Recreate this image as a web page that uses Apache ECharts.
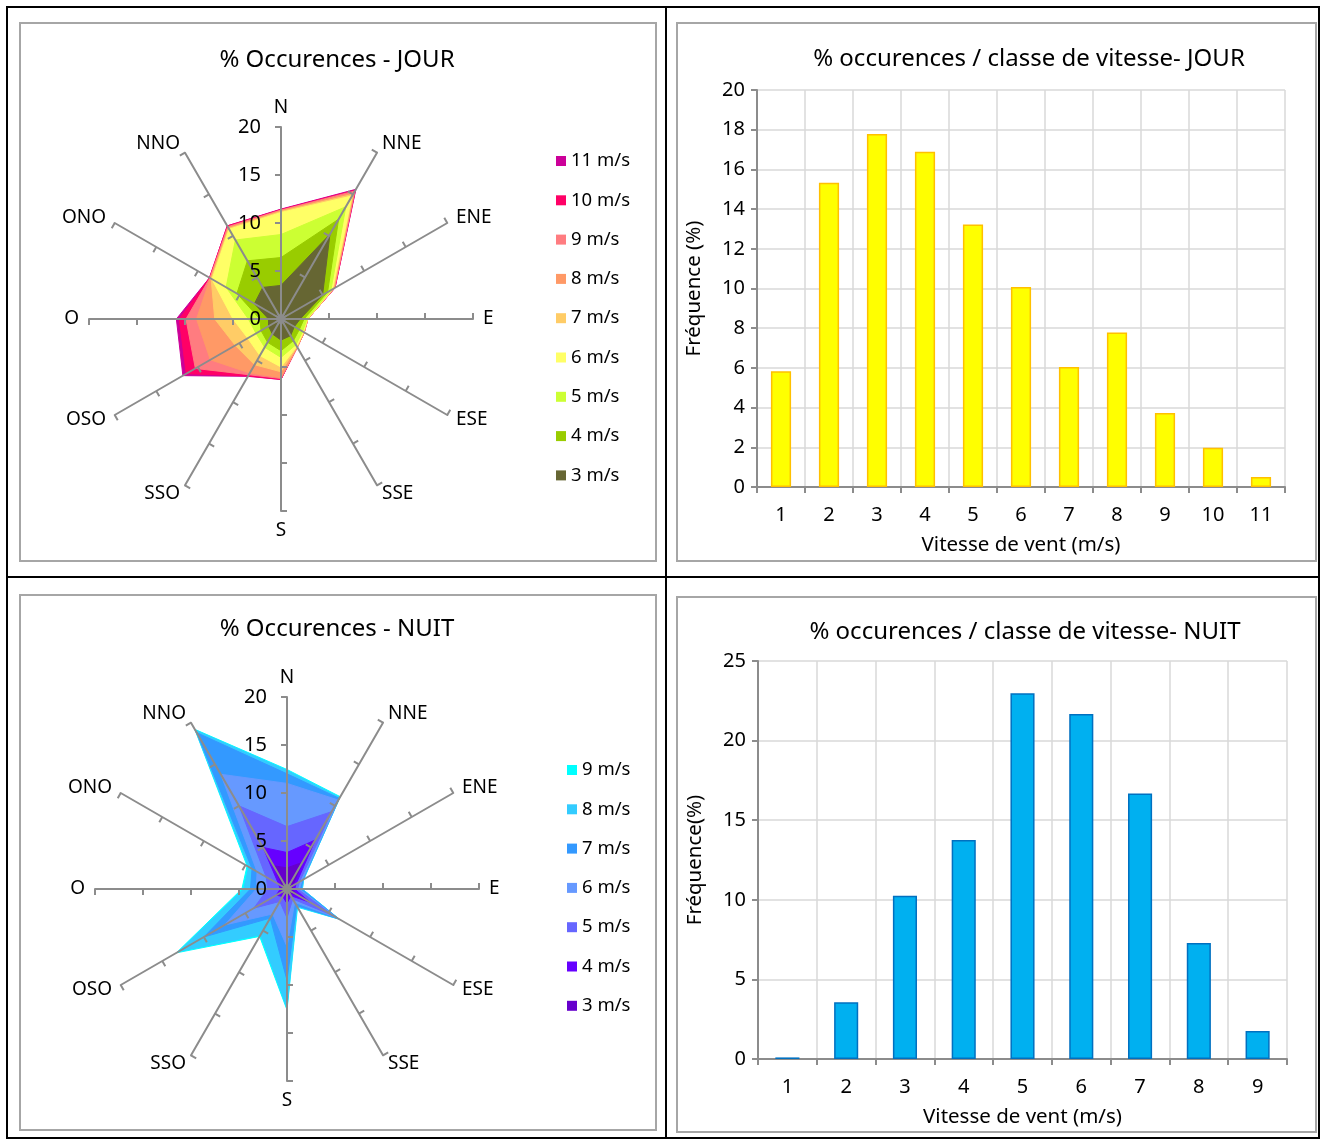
<!DOCTYPE html>
<html>
<head>
<meta charset="utf-8">
<script src="https://cdn.jsdelivr.net/npm/echarts@6/dist/echarts.min.js"></script>
<style>
  html, body { margin: 0; padding: 0; background: #fff; }
  #page { position: relative; width: 1322px; height: 1140px; overflow: hidden; }
  .rule { position: absolute; background: #000; }
  .panel { position: absolute; border: 2px solid #a6a6a6; box-sizing: border-box; background: #fff; }
  .chart { position: absolute; left: 0; top: 0; width: 1322px; height: 1140px; }
</style>
</head>
<body>
<div id="page">
  <!-- table frame -->
  <div class="rule" style="left:6px;top:6px;width:1314px;height:2px"></div>
  <div class="rule" style="left:6px;top:1137px;width:1314px;height:2px"></div>
  <div class="rule" style="left:6px;top:6px;width:2px;height:1133px"></div>
  <div class="rule" style="left:1318px;top:6px;width:2px;height:1133px"></div>
  <div class="rule" style="left:665px;top:6px;width:2px;height:1133px"></div>
  <div class="rule" style="left:6px;top:576px;width:1314px;height:2px"></div>
  <!-- chart frames -->
  <div class="panel" style="left:19px;top:22px;width:638px;height:540px"></div>
  <div class="panel" style="left:676px;top:22px;width:641px;height:540px"></div>
  <div class="panel" style="left:19px;top:594px;width:638px;height:537px"></div>
  <div class="panel" style="left:676px;top:596px;width:641px;height:537px"></div>
  <div id="chartJour" class="chart"></div>
  <div id="chartNuit" class="chart"></div>
</div>
<script>
// Wind directions, clockwise from north
const DIRECTIONS = ['N', 'NNE', 'ENE', 'E', 'ESE', 'SSE', 'S', 'SSO', 'OSO', 'O', 'ONO', 'NNO'];
const RADAR_TICKS = [0, 5, 10, 15, 20];

// Day: cumulative % of occurrences per direction, up to each speed class
const JOUR_3  = [3.5, 10.2, 5.0, 2.0, 1.6, 2.0, 2.2, 1.8, 1.5, 1.3, 3.2, 3.8];
const JOUR_4  = [6.4, 12.0, 5.6, 2.4, 2.2, 2.6, 3.3, 2.8, 2.4, 2.2, 5.3, 7.0];
const JOUR_5  = [8.8, 13.5, 6.0, 2.7, 2.6, 3.1, 4.0, 3.4, 3.0, 3.4, 6.6, 9.5];
const JOUR_6  = [11.1, 14.8, 6.2, 2.75, 2.7, 3.3, 5.0, 4.4, 4.0, 5.0, 8.3, 10.8];
const JOUR_7  = [11.2, 15.0, 6.3, 2.8, 2.75, 3.35, 5.5, 5.5, 5.5, 6.9, 8.4, 10.9];
const JOUR_8  = [11.3, 15.2, 6.4, 2.8, 2.8, 3.4, 6.1, 6.5, 8.5, 8.8, 8.5, 11.0];
const JOUR_9  = [11.35, 15.4, 6.45, 2.8, 2.8, 3.4, 6.2, 6.7, 10.3, 9.9, 8.55, 11.1];
const JOUR_10 = [11.4, 15.5, 6.5, 2.8, 2.8, 3.4, 6.3, 6.85, 11.4, 10.6, 8.6, 11.2];
const JOUR_11 = [11.45, 15.6, 6.5, 2.8, 2.8, 3.4, 6.3, 6.9, 11.8, 10.9, 8.6, 11.2];

// Night: cumulative % of occurrences per direction, up to each speed class
const NUIT_3 = [2.2, 3.2, 0.7, 0.5, 1.2, 0.5, 0.8, 0.5, 0.6, 0.4, 0.5, 2.8];
const NUIT_4 = [3.8, 5.9, 1.1, 0.8, 2.8, 0.8, 1.5, 0.9, 1.3, 0.7, 1.0, 5.0];
const NUIT_5 = [6.5, 9.3, 1.5, 1.1, 5.5, 1.2, 3.0, 1.5, 4.0, 2.0, 2.5, 10.0];
const NUIT_6 = [11.0, 10.7, 1.8, 1.3, 6.0, 1.6, 6.0, 3.0, 7.5, 3.2, 3.6, 13.8];
const NUIT_7 = [12.0, 10.9, 1.9, 1.5, 6.2, 2.0, 9.5, 3.5, 10.0, 3.8, 4.2, 18.8];
const NUIT_8 = [12.35, 11.0, 2.0, 1.6, 6.3, 2.1, 12.4, 5.5, 13.0, 4.5, 4.6, 19.1];
const NUIT_9 = [12.45, 11.1, 2.0, 1.6, 6.3, 2.2, 12.6, 5.7, 13.3, 4.7, 4.8, 19.2];

// Frequency per speed class (%)
const JOUR_CLASSES = ['1', '2', '3', '4', '5', '6', '7', '8', '9', '10', '11'];
const JOUR_FREQ = [5.83, 15.33, 17.78, 16.89, 13.23, 10.08, 6.05, 7.78, 3.73, 1.98, 0.5];
const NUIT_CLASSES = ['1', '2', '3', '4', '5', '6', '7', '8', '9'];
const NUIT_FREQ = [0.1, 3.56, 10.26, 13.76, 22.97, 21.67, 16.67, 7.29, 1.76];

const FONT = 'Noto Sans';
const TXT = '#000';
const AXIS_GREY = '#8c8c8c';

// Speed layers, outermost first so the lower speeds paint on top
const JOUR_LAYERS = [
  { name: '11 m/s', color: '#CC0099', data: JOUR_11 },
  { name: '10 m/s', color: '#FF0066', data: JOUR_10 },
  { name: '9 m/s',  color: '#FF7C80', data: JOUR_9 },
  { name: '8 m/s',  color: '#FF9966', data: JOUR_8 },
  { name: '7 m/s',  color: '#FFCC66', data: JOUR_7 },
  { name: '6 m/s',  color: '#FFFF66', data: JOUR_6 },
  { name: '5 m/s',  color: '#CCFF33', data: JOUR_5 },
  { name: '4 m/s',  color: '#99CC00', data: JOUR_4 },
  { name: '3 m/s',  color: '#666633', data: JOUR_3 }
];
const NUIT_LAYERS = [
  { name: '9 m/s', color: '#00FFFF', data: NUIT_9 },
  { name: '8 m/s', color: '#33CCFF', data: NUIT_8 },
  { name: '7 m/s', color: '#3399FF', data: NUIT_7 },
  { name: '6 m/s', color: '#6699FF', data: NUIT_6 },
  { name: '5 m/s', color: '#6666FF', data: NUIT_5 },
  { name: '4 m/s', color: '#6600FF', data: NUIT_4 },
  { name: '3 m/s', color: '#6600CC', data: NUIT_3 }
];

// Radar lays indicators out counter-clockwise; reorder so the rose turns clockwise
const ORDER = [0].concat(DIRECTIONS.map((d, i) => i).slice(1).reverse());
const reorder = arr => ORDER.map(i => arr[i]);

function radarComponent(center) {
  return {
    z: 10,
    center: center,
    radius: 192,
    startAngle: 90,
    splitNumber: RADAR_TICKS.length - 1,
    shape: 'polygon',
    indicator: ORDER.map((i, k) => {
      const ind = { name: DIRECTIONS[i], min: RADAR_TICKS[0], max: RADAR_TICKS[RADAR_TICKS.length - 1] };
      if (k === 0) {
        ind.axisLabel = { show: true, color: TXT, fontSize: 20, fontFamily: FONT, margin: 20 };
      }
      return ind;
    }),
    axisName: { color: TXT, fontSize: 19, fontFamily: FONT },
    nameGap: 10,
    axisLine: { lineStyle: { color: AXIS_GREY, width: 2 } },
    axisTick: { show: true, length: 6, lineStyle: { color: AXIS_GREY, width: 2 } },
    axisLabel: { show: false },
    splitLine: { show: false },
    splitArea: { show: false }
  };
}

function radarSeries(layers) {
  return layers.map(l => ({
    type: 'radar',
    name: l.name,
    radarIndex: 0,
    symbol: 'none',
    silent: true,
    z: 1,
    color: l.color,
    lineStyle: { color: l.color, width: 1 },
    areaStyle: { color: l.color, opacity: 1 },
    data: [{ value: reorder(l.data), name: l.name }]
  }));
}

function legend(layers, left, top) {
  return {
    orient: 'vertical',
    left: left,
    top: top,
    padding: 0,
    icon: 'rect',
    itemWidth: 10,
    itemHeight: 10,
    itemGap: 19.3,
    selectedMode: false,
    data: layers.map(l => l.name),
    textStyle: { color: TXT, fontSize: 18.5, fontFamily: FONT, lineHeight: 20 }
  };
}

function barParts(cfg) {
  return {
    grid: { left: cfg.left, right: cfg.right, top: cfg.top, bottom: cfg.bottom },
    xAxis: {
      type: 'category',
      data: cfg.classes,
      name: 'Vitesse de vent (m/s)',
      nameLocation: 'middle',
      nameGap: 48,
      nameTextStyle: { color: TXT, fontSize: 20.5, fontFamily: FONT },
      axisLine: { lineStyle: { color: AXIS_GREY, width: 2 } },
      axisTick: { show: true, length: 6, lineStyle: { color: AXIS_GREY, width: 2 } },
      axisLabel: { color: TXT, fontSize: 20, fontFamily: FONT, margin: 18 },
      splitLine: { show: true, lineStyle: { color: '#d9d9d9', width: 1.5 } }
    },
    yAxis: {
      type: 'value',
      min: 0,
      max: cfg.max,
      interval: cfg.interval,
      name: cfg.yName,
      nameLocation: 'middle',
      nameRotate: 90,
      nameGap: 52,
      nameTextStyle: { color: TXT, fontSize: 20.5, fontFamily: FONT },
      axisLine: { show: true, lineStyle: { color: AXIS_GREY, width: 2 } },
      axisTick: { show: true, length: 6, lineStyle: { color: AXIS_GREY, width: 2 } },
      axisLabel: { color: TXT, fontSize: 20, fontFamily: FONT, margin: 12 },
      splitLine: { show: true, lineStyle: { color: '#d9d9d9', width: 1.5 } }
    },
    series: {
      type: 'bar',
      data: cfg.values,
      barWidth: cfg.barWidth,
      silent: true,
      itemStyle: { color: cfg.color, borderColor: cfg.border, borderWidth: 1.5 }
    }
  };
}

function title(text, x, y) {
  return {
    text: text,
    left: x,
    top: y,
    textAlign: 'center',
    textStyle: { color: TXT, fontSize: 24, fontWeight: 'normal', fontFamily: FONT }
  };
}

function build(el, o) {
  const chart = echarts.init(document.getElementById(el), null, { renderer: 'canvas' });
  const bar = barParts(o.bar);
  chart.setOption({
    backgroundColor: 'transparent',
    animation: false,
    title: [title(o.radarTitle, o.radarTitleX, o.radarTitleY), title(o.barTitle, o.barTitleX, o.barTitleY)],
    legend: legend(o.layers, o.legendLeft, o.legendTop),
    radar: radarComponent(o.center),
    grid: bar.grid,
    xAxis: bar.xAxis,
    yAxis: bar.yAxis,
    series: radarSeries(o.layers).concat([bar.series])
  });
}

build('chartJour', {
  radarTitle: '% Occurences - JOUR', radarTitleX: 332, radarTitleY: 43,
  barTitle: '% occurences / classe de vitesse- JOUR', barTitleX: 1024, barTitleY: 42,
  layers: JOUR_LAYERS, legendLeft: 556, legendTop: 151,
  center: [281, 319],
  bar: { left: 757, right: 37, top: 90, bottom: 653, classes: JOUR_CLASSES, values: JOUR_FREQ,
         max: 20, interval: 2, yName: 'Fréquence (%)', barWidth: '42%', color: '#FFFF00', border: '#FFC000' }
});

build('chartNuit', {
  radarTitle: '% Occurences - NUIT', radarTitleX: 332, radarTitleY: 612,
  barTitle: '% occurences / classe de vitesse- NUIT', barTitleX: 1020, barTitleY: 615,
  layers: NUIT_LAYERS, legendLeft: 567, legendTop: 760,
  center: [287, 889],
  bar: { left: 758, right: 35, top: 661, bottom: 81, classes: NUIT_CLASSES, values: NUIT_FREQ,
         max: 25, interval: 5, yName: 'Fréquence(%)', barWidth: '41%', color: '#00B0F0', border: '#0070C0' }
});
</script>
</body>
</html>
